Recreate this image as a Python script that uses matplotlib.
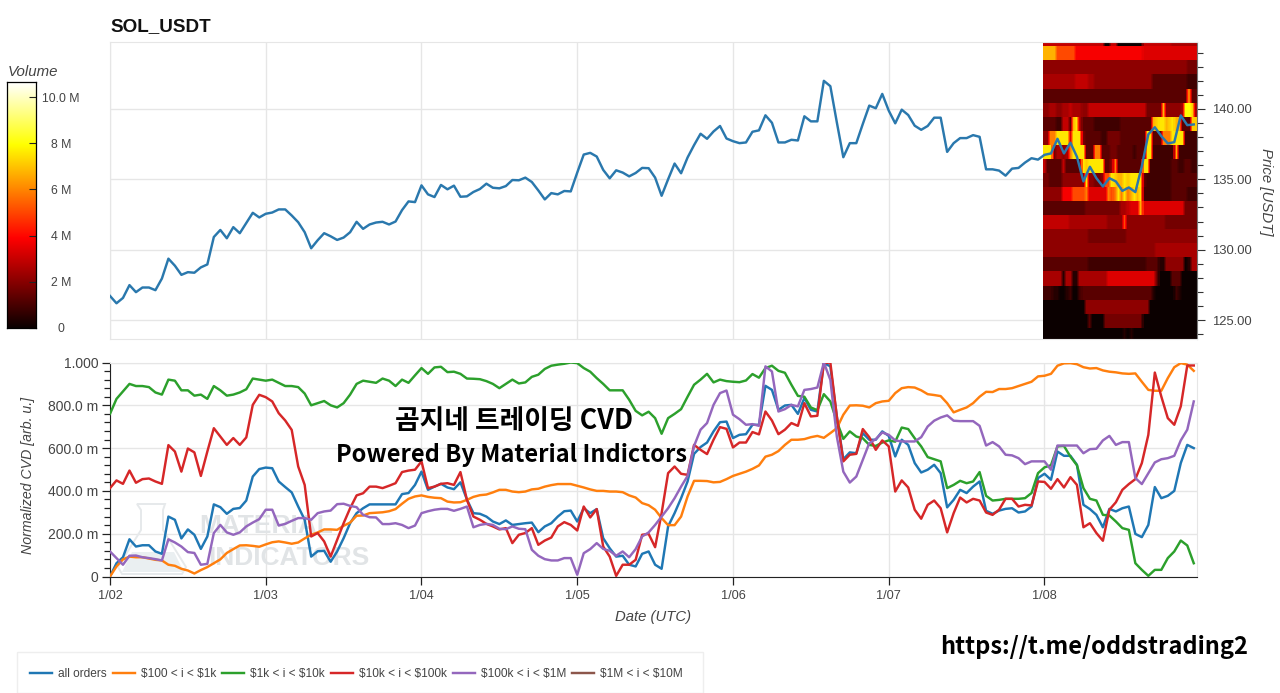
import numpy as np
import matplotlib
matplotlib.use('Agg')
import matplotlib.pyplot as plt
from matplotlib.patches import Rectangle, Polygon

plt.rcParams['font.family'] = ['Liberation Sans', 'DejaVu Sans']

# hours since 1/02 00:00
horas = np.arange(168)
dias = [0, 24, 48, 72, 96, 120, 144]
dias_labels = ['1/02', '1/03', '1/04', '1/05', '1/06', '1/07', '1/08']

preco = [
    126.71, 126.19, 126.57, 127.48, 126.98, 127.31, 127.31, 127.12, 127.95, 129.36, 128.86, 128.21, 128.40, 128.36, 128.74, 128.95, 130.90, 131.40, 130.81, 131.60, 131.17, 131.90, 132.62, 132.29,
    132.55, 132.64, 132.86, 132.86, 132.43, 131.95, 131.24, 130.10, 130.67, 131.17, 130.95, 130.69, 130.86, 131.24, 131.98, 131.48, 131.79, 131.93, 131.98, 131.79, 132.0, 132.81, 133.43, 133.38,
    134.57, 133.93, 133.74, 134.6, 134.29, 134.55, 133.76, 133.79, 134.1, 134.31, 134.69, 134.4, 134.36, 134.52, 134.95, 134.93, 135.12, 134.81, 134.21, 133.57, 134.02, 133.93, 134.17, 134.14,
    135.48, 136.76, 136.88, 136.62, 135.67, 135.07, 135.64, 135.48, 135.21, 135.45, 135.81, 135.79, 135.12, 133.83, 135.0, 136.12, 135.43, 136.55, 137.43, 138.24, 137.88, 138.4, 138.79, 137.9,
    137.71, 137.57, 137.62, 138.38, 138.48, 139.55, 139.02, 137.62, 137.62, 137.81, 137.76, 139.48, 139.12, 139.12, 142.0, 141.62, 139.05, 136.57, 137.57, 137.57, 138.93, 140.24, 140.05, 141.07,
    139.88, 138.98, 139.95, 139.57, 138.81, 138.52, 138.79, 139.38, 139.38, 136.95, 137.57, 137.93, 137.93, 138.14, 138.02, 135.71, 135.71, 135.62, 135.26, 135.76, 135.81, 136.19, 136.5, 136.4,
    136.74, 136.84, 137.88, 136.84, 137.6, 136.6, 134.85, 135.89, 135.08, 134.49, 135.08, 134.85, 134.18, 134.42, 134.09, 135.93, 138.2, 138.7, 138.07, 137.55, 137.64, 139.54, 138.85, 138.9,
]

# CVD in percent of the normalized range
cvd_all = [
    0, 6.2, 9, 17.4, 14, 14.6, 14.6, 11.7, 10.6, 28, 26.5, 17.8, 22, 19.5, 12.9, 18.7, 33.7, 32.4, 29.3, 31.6, 32, 35.5, 46.7, 50.2,
    50.9, 50.6, 44.4, 41.8, 39.3, 32.7, 26.5, 9.3, 11.8, 12, 6.9, 11.7, 17.9, 24.9, 29.6, 31.9, 33.7, 33.7, 33.7, 33.7, 33.7, 38.5, 39, 42.8,
    49, 40.5, 42, 43.3, 41.6, 40.8, 44, 36, 29.6, 29.3, 28, 25.7, 24.5, 26.2, 24.1, 24.5, 24.9, 25.2, 20.7, 23.4, 24.9, 28, 30.5, 30.8,
    25.7, 31.9, 29.6, 31.5, 17.9, 13.2, 9.3, 9.7, 5.5, 4.7, 10.6, 11.7, 5.5, 3.6, 23.4, 29.6, 36.6, 44.4, 57.3, 60.5, 62.6, 67.8, 72.1, 72.4,
    64.7, 66.2, 66.5, 70.9, 70.9, 89.1, 87.2, 77.9, 79.9, 80.2, 76, 83.4, 77.9, 77.1, 99.7, 98.2, 74.8, 54.8, 58, 57.6, 67, 63.9, 63.9, 67.8,
    65.7, 56.1, 63.9, 61.5, 53, 48.6, 49.9, 52.2, 48.3, 32.3, 35.8, 40.5, 39, 42, 44.4, 30.7, 29.3, 30.8, 31.6, 31.9, 29.9, 30.4, 32.7, 46,
    48, 45.2, 58.4, 56.4, 56.4, 52.2, 33.5, 31.5, 28.8, 23, 31.6, 30.4, 31.9, 32.7, 19.9, 18.4, 24.1, 41.8, 36.6, 37.7, 40, 53, 61.5, 60,
]
cvd_100_1k = [
    0, 4.7, 8, 9.3, 9, 9, 8.4, 7.8, 7.5, 5.5, 5, 3.6, 2.8, 1.4, 3, 4.4, 6.2, 8, 11, 12.8, 14.5, 14.6, 14.3, 13.9,
    15, 16, 16.4, 15.9, 15.3, 15.9, 17.8, 19.5, 20.6, 22, 22, 21.8, 23.7, 25.2, 28.4, 28.5, 29.6, 29.8, 30, 30.5, 31.5, 34, 36.3, 37.4,
    37.9, 37.2, 36.8, 36.6, 35, 34.6, 34.7, 35.8, 37.2, 38, 38.3, 39.3, 40.5, 40.5, 39.7, 39.4, 39.7, 40.7, 41, 42, 42.7, 43.2, 43.2, 43.2,
    42.4, 41.6, 40.7, 40, 40, 39.7, 39.7, 39.4, 37.9, 36.9, 34.3, 33.3, 31.2, 27.3, 24, 24, 28, 37.4, 44.7, 44.7, 44.6, 44, 44.2, 45.5,
    47, 48, 49, 50.3, 51.9, 56, 56.9, 58.6, 61.5, 63.9, 63.9, 64.2, 65.1, 65.7, 64.8, 67, 69.3, 75.6, 79.9, 80, 79.8, 79, 81, 81.8,
    82.1, 85.7, 88, 88.5, 88.3, 87, 85.2, 84.8, 84.3, 81, 76.7, 77.9, 79, 81, 84, 86.3, 86.2, 87.6, 87.6, 88, 89, 90, 91, 93.5,
    93.8, 94.7, 98.5, 99.6, 99.7, 99.2, 97.8, 97.2, 97.4, 96.3, 95.7, 95.4, 94.9, 94.7, 94.9, 91, 87.2, 86.8, 86.8, 92.7, 97.8, 99.7, 99, 96.1,
]
cvd_1k_10k = [
    76, 83, 86.5, 90, 89, 89, 88.5, 86, 85, 92, 91.5, 87, 87, 84.5, 85, 83, 89, 87, 84.5, 85, 86, 87.5, 92.5, 92,
    91.5, 92, 90.5, 89, 89, 88.5, 85.5, 80, 81, 82, 80, 79, 81, 85, 90, 91.5, 91, 90.5, 92.5, 91.5, 89, 92, 90.5, 94,
    97.4, 94.7, 97.7, 98, 95.5, 95.7, 94.7, 92.5, 92.4, 92.2, 91.3, 90, 88, 90, 92, 90.2, 90.7, 93.3, 94.3, 97, 98.5, 99, 99.4, 100,
    99.7, 97.4, 95.7, 92.7, 90, 87, 87, 87, 82.6, 77.4, 75.3, 77, 74, 66.7, 74, 76, 78.2, 84, 89.6, 92, 94.7, 90.7, 92, 91.3,
    91, 90.8, 91.6, 94.6, 92.9, 97.4, 98.5, 96.1, 95.2, 89.6, 84.4, 84, 79, 77.7, 85.2, 81.8, 72.4, 64.3, 67.8, 65.4, 64.6, 61.5, 61, 62.6,
    63.6, 63, 69.6, 68.9, 64.6, 60.8, 55.8, 54.8, 53.8, 41.3, 42.8, 44.7, 43.6, 44.4, 48.8, 37.7, 35.5, 35.8, 36.3, 36.3, 36.3, 36.6, 39, 48.3,
    51, 52, 60.8, 61, 56, 52, 41.3, 36.3, 35.5, 28.8, 28.5, 25.7, 22.6, 21.8, 6.2, 3.1, 0.3, 3.1, 3.1, 8.6, 11.7, 16.8, 14.5, 6.2,
]
cvd_10k_100k = [
    41.3, 44.9, 43.3, 49.5, 43.8, 45.5, 45.8, 44.4, 43.3, 61.4, 58.4, 49, 59.8, 58, 47, 58.4, 69.3, 65.4, 61.5, 64.7, 61.5, 65, 80.2, 84.9,
    83.8, 81.8, 76.3, 72.9, 68.5, 51.4, 42.8, 18.7, 20.3, 16.4, 9.3, 17.1, 24.9, 31.9, 37.9, 38.9, 42, 42, 41.3, 42.4, 43.6, 48.8, 49.5, 49.9,
    53.8, 41.3, 42, 43.3, 43.6, 42.8, 48.8, 35.8, 28, 26.5, 24.6, 23.4, 22, 22.6, 15.6, 19.5, 20.3, 22.6, 14.8, 16.8, 18.2, 23.4, 25.4, 24.1,
    21.5, 32.7, 27.6, 31.5, 14, 9.3, 0.3, 5.5, 5.5, 7.8, 19.5, 19.9, 13.7, 29.6, 48.3, 51.4, 48, 47.5, 61.5, 59.2, 57.2, 63.9, 69.8, 69,
    60.3, 62.6, 62.6, 67.5, 66.4, 77.1, 72.9, 66.5, 68.6, 71.7, 70.4, 81, 74.8, 75.1, 99.7, 100, 74.8, 53.8, 56.9, 57.3, 68.9, 65.1, 59.2, 63.6,
    60.8, 39.7, 44.9, 41.6, 31.2, 27, 33.5, 35.5, 31.9, 20.6, 29.6, 36.9, 34.6, 36.3, 35.5, 29.9, 28.8, 31.2, 36.3, 36.3, 32.7, 33.5, 33.2, 44.4,
    44.2, 41, 45.5, 41.6, 46.4, 42.8, 23, 24.9, 20.3, 16.7, 31.2, 34.7, 40.5, 43.2, 45.5, 53, 66.2, 95.3, 84.1, 74, 70.9, 79.5, 98.6, 98.6,
]
cvd_100k_1m = [
    11.7, 8.6, 5.5, 9.7, 9.8, 9, 8.6, 8.1, 7.5, 17.4, 15.9, 14, 11.4, 11, 5.5, 5.9, 20.3, 24.1, 20.6, 19.5, 20.6, 23.4, 25.2, 26.8,
    31.2, 31.2, 23.8, 24.6, 26, 27.3, 27.3, 26.5, 29.6, 30.4, 30.8, 33.8, 34, 33, 32.4, 28.8, 27.7, 27.6, 24.5, 24.5, 24.9, 24.1, 22.6, 23.8,
    29.6, 30.5, 31.2, 31.6, 31.6, 30.7, 31.6, 32.7, 23, 24.1, 24.6, 24.1, 22.3, 22.1, 23.4, 22.3, 22.1, 12.5, 9.7, 8.1, 7.5, 7.5, 8.6, 8.6,
    0.8, 10.9, 12.8, 15.6, 12.9, 12, 9.7, 11.7, 9, 12.8, 18.7, 20.6, 24.1, 28, 31.9, 36.6, 42, 47, 61, 68.6, 71.7, 80.2, 85.7, 86.9,
    75.6, 73.5, 70.9, 71.2, 70.4, 98.2, 95.8, 77.1, 78.2, 80.2, 79.5, 87.2, 87.6, 88.3, 100, 91.9, 65.4, 49, 43.9, 46.7, 54.5, 62.3, 64.2, 67.3,
    66.2, 63.6, 63.1, 63.1, 63.1, 65.1, 70.1, 72.8, 74.3, 75.3, 72.8, 72.6, 72.6, 72.6, 70.4, 61.2, 62.8, 60.8, 56.9, 56.6, 55.3, 52.5, 53.8, 53.8,
    53.8, 49.9, 61.2, 61.2, 61.2, 61.2, 57.6, 59.5, 59.7, 63.6, 65.7, 61.5, 62.8, 62.8, 46, 43.2, 48.3, 53.3, 54.8, 55.3, 56.4, 63.6, 68.6, 81.8,
]
cvd_labels = ['all orders', r'\$100 < i < \$1k', r'\$1k < i < \$10k', r'\$10k < i < \$100k', r'\$100k < i < \$1M', r'\$1M < i < \$10M']
cvd_cores = ['#1f77b4', '#ff7f0e', '#2ca02c', '#d62728', '#9467bd', '#8c564b']

# volume heatmap, top row first; each character is a base-36 level of 0.42 M
heat_rows = [
    '77777777 77777777 77700770 00000007 77777777 66666666',
    'ggggcccc cc999999 99999999 99999998 88888888 88888888',
    '55555555 55555555 55555555 55555555 55555555 55555444',
    '66666666 66777766 55555555 55555555 55333333 33333222',
    '33333333 33333333 33333333 33333333 33333333 33333e33',
    '55665566 76665577 77777777 77777777 44444g55 5556jjh6',
    '33332277 3gi73333 22222222 33333333 33ghiigh igg333hh',
    '55eeiiii 8iii4333 33224444 33333333 ii333eee iiii2222',
    'iii46656 eiiii333 ee333443 33332333 ii222222 2g222222',
    '73333373 3333ihii iii335e3 3333333i i2222222 33223322',
    '44333355 55555i55 445ccihg gihiiii3 22222222 33333333',
    '55555599 9cccce88 8888ecei eiegigi2 22222222 33333222',
    '33333333 33333444 44444444 667888g8 88888888 88884444',
    '77777777 66666666 66665555 5c555555 55555544 44444444',
    '55555555 55555544 44444444 44555555 55555555 55555555',
    '55555555 55555555 55555555 55555555 55566666 66666666',
    '33333333 33333322 22222222 22222222 33331155 55550166',
    '66666616 61166666 66668888 88888888 88840000 33300000',
    '22211001 20023333 33333333 33333333 33100000 02100000',
    '00000000 00000555 55555555 55555555 50000000 00000000',
    '00000000 00000030 00044444 44444440 00000000 00000000',
    '00000000 00000000 00000000 01010000 00000000 00000000',
]
vol_ticks = [0, 2, 4, 6, 8, 10]
vol_labels = ['0', '2 M', '4 M', '6 M', '8 M', '10.0 M']
vol_max = 10.65

preco_ticks = [125, 130, 135, 140]
cvd_ticks = [0, 0.2, 0.4, 0.6, 0.8, 1.0]
cvd_tick_labels = ['0', '200.0 m', '400.0 m', '600.0 m', '800.0 m', '1.000']

W, H = 1280, 693
cinza = '#444444'
grade = '#e6e6e6'


def caixa(x0, y0, x1, y1):
    # pixel box of the picture -> figure fraction
    return [x0 / W, 1 - y1 / H, (x1 - x0) / W, (y1 - y0) / H]


def fig_xy(pontos):
    # decoration only: picture pixels -> figure fraction
    p = np.array(pontos, dtype=float)
    return np.column_stack([p[:, 0] / W, 1 - p[:, 1] / H])


fig = plt.figure(figsize=(12.8, 6.93), dpi=100)

# painel do preco
ax1 = fig.add_axes(caixa(110, 42, 1197, 339))
matriz = np.array([[int(c, 36) * 0.42 for c in r.replace(' ', '')] for r in heat_rows])[::-1]
# leve suavizacao horizontal, a imagem original e borrada
fino = np.repeat(matriz, 3, axis=1)
fino = np.apply_along_axis(lambda v: np.convolve(np.pad(v, 1, mode='edge'), np.ones(3) / 3, mode='valid'), 1, fino)
x_bordas = np.linspace(143.76, 167.5, fino.shape[1] + 1)
y_bordas = 123.45 + np.arange(fino.shape[0] + 1)
ax1.pcolormesh(x_bordas, y_bordas, fino, cmap='hot', vmin=0, vmax=vol_max, zorder=2, rasterized=True)
ax1.plot(horas, preco, color='#2a78ad', lw=1.75, zorder=3)
ax1.set_xlim(0, 167.5)
ax1.set_ylim(123.65, 144.76)
ax1.set_xticks(dias)
ax1.tick_params(axis='x', length=0, labelbottom=False)
ax1.yaxis.tick_right()
ax1.yaxis.set_label_position('right')
ax1.set_yticks(preco_ticks)
ax1.set_yticklabels(['%.2f' % p for p in preco_ticks])
ax1.set_yticks(np.arange(124, 145), minor=True)
ax1.tick_params(axis='y', which='major', length=6, width=0.8, color='#333333', labelcolor=cinza, labelsize=9.4, pad=5)
ax1.tick_params(axis='y', which='minor', length=4, width=0.8, color='#333333')
ax1.grid(True, color=grade, lw=1.0, zorder=0)
ax1.set_axisbelow(True)
for lado in ['top', 'left', 'bottom']:
    ax1.spines[lado].set_color(grade)
ax1.spines['right'].set_color('#777777')
ax1.spines['right'].set_linewidth(0.8)
fig.text(1266 / W, 1 - 192 / H, 'Price [USDT]', rotation=-90, style='italic', color=cinza, fontsize=10.8, ha='center', va='center')
fig.text(110 / W, 1 - 27 / H, 'SOL_USDT', fontweight='bold', fontsize=13.6, color='#111111', ha='left', va='center')

# barra de cor
cax = fig.add_axes(caixa(7, 82, 36, 328))
grad = np.linspace(0, 1, 256).reshape(-1, 1)
cax.imshow(grad, cmap='hot', origin='lower', aspect='auto', extent=[0, 1, 0, vol_max])
cax.set_xticks([])
cax.yaxis.tick_right()
cax.set_yticks(vol_ticks)
cax.set_yticklabels(vol_labels)
cax.tick_params(axis='y', direction='in', length=5, width=0.8, color='#222222', labelcolor=cinza, labelsize=8.8, pad=18)
for rot in cax.get_yticklabels():
    rot.set_ha('center')
for s in cax.spines.values():
    s.set_linewidth(0.9)
fig.text(8 / W, 1 - 72 / H, 'Volume', style='italic', color=cinza, fontsize=10.8, ha='left', va='center')

# painel do CVD
ax2 = fig.add_axes(caixa(110, 362.5, 1197, 576.5))
ax2.grid(True, color=grade, lw=1.0)
ax2.set_axisbelow(True)

# marca d'agua
frasco = Polygon(fig_xy([(137, 504), (165, 504), (163, 510), (163, 530), (186, 567), (182, 574), (122, 574), (118, 567), (141, 530), (141, 510)]),
                 closed=True, fc='none', ec='#e6e9eb', lw=1.4, zorder=1, transform=fig.transFigure)
liquido = Polygon(fig_xy([(132, 552), (174, 552), (184, 572), (122, 572)]),
                  closed=True, fc='#eaeff1', ec='none', zorder=1, transform=fig.transFigure)
for p in [frasco, liquido]:
    ax2.add_patch(p)
marca = dict(color='#e1e4e6', fontweight='bold', fontsize=19, transform=fig.transFigure, va='center', ha='left', zorder=1)
ax2.text(199 / W, 1 - 526 / H, 'MATERIAL', **marca)
ax2.text(208 / W, 1 - 558 / H, 'INDICATORS', **marca)

series = [cvd_all, cvd_100_1k, cvd_1k_10k, cvd_10k_100k, cvd_100k_1m]
linhas = []
for valores, cor, nome in zip(series, cvd_cores, cvd_labels):
    l, = ax2.plot(horas, np.array(valores) / 100, color=cor, lw=1.75, label=nome, zorder=3)
    linhas.append(l)
l, = ax2.plot([], [], color=cvd_cores[5], lw=1.75, label=cvd_labels[5])
linhas.append(l)

ax2.set_xlim(0, 167.5)
ax2.set_ylim(0, 1)
ax2.set_xticks(dias)
ax2.set_xticklabels(dias_labels)
ax2.set_yticks(cvd_ticks)
ax2.set_yticklabels(cvd_tick_labels)
ax2.set_yticks(np.arange(0, 1.001, 0.04), minor=True)
ax2.tick_params(axis='both', which='major', length=6, width=0.9, color='#222222', labelcolor=cinza, direction='out')
ax2.tick_params(axis='x', which='major', labelsize=9.2, pad=4)
ax2.tick_params(axis='y', which='major', labelsize=10, pad=2.5)
ax2.tick_params(axis='y', which='minor', length=4, width=0.9, color='#222222')
ax2.spines['top'].set_color(grade)
ax2.spines['right'].set_color(grade)
ax2.spines['left'].set_color('#222222')
ax2.spines['bottom'].set_color('#222222')
fig.text(28 / W, 1 - 475 / H, 'Normalized CVD [arb. u.]', rotation=90, style='italic', color=cinza, fontsize=10.2, ha='center', va='center')
fig.text(653 / W, 1 - 617 / H, 'Date (UTC)', style='italic', color=cinza, fontsize=10.7, ha='center', va='center')

# textos sobrepostos
kr = ['Noto Sans CJK KR', 'DejaVu Sans']
fig.text(514 / W, 1 - 421 / H, '곰지네 트레이딩 CVD', family=kr, fontweight='bold', fontsize=19.3, color='black', ha='center', va='center', zorder=5)
fig.text(511 / W, 1 - 455 / H, 'Powered By Material Indictors', family=kr, fontweight='bold', fontsize=17, color='black', ha='center', va='center', zorder=5)
fig.text(1094 / W, 1 - 647 / H, 'https://t.me/oddstrading2', family=kr, fontweight='bold', fontsize=17, color='black', ha='center', va='center', zorder=5)

# legenda
fig.add_artist(Rectangle((17 / W, 0), (703 - 17) / W, 1 - 652 / H, transform=fig.transFigure, fc='white', ec='#eeeeee', lw=1))
fig.legend(handles=linhas, loc='center left', bbox_to_anchor=(30 / W, 1 - 674 / H), ncol=6, frameon=False, fontsize=8.6,
           labelcolor=cinza, handlelength=1.85, handletextpad=0.5, columnspacing=0.5, borderpad=0, borderaxespad=0)

plt.savefig('out.png', dpi=100)
